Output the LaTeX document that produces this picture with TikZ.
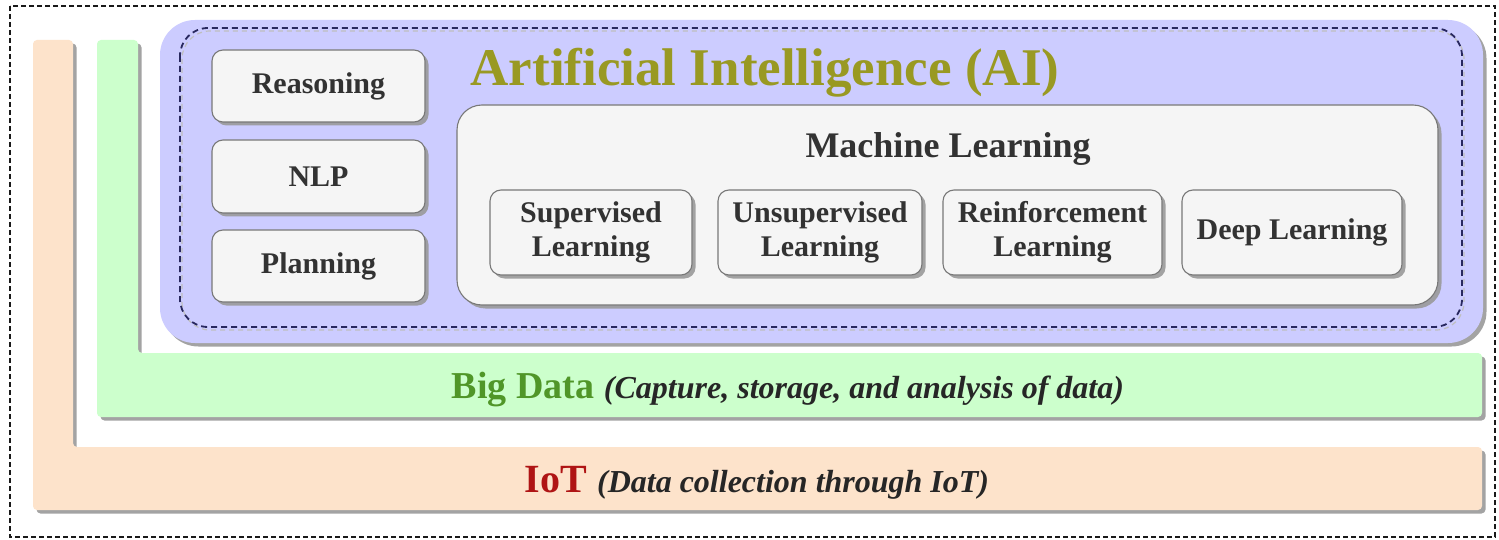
\documentclass[tikz,border=0pt]{standalone}
\usepackage{fontspec}
\setmainfont{Liberation Serif}
\usetikzlibrary{shadows}
\definecolor{iotfill}{RGB}{253,227,203}
\definecolor{bdfill}{RGB}{204,255,204}
\definecolor{aifill}{RGB}{204,204,255}
\definecolor{boxfill}{RGB}{245,245,245}
\definecolor{boxline}{RGB}{120,120,120}
\definecolor{navy}{RGB}{40,40,95}
\definecolor{olive}{RGB}{153,153,34}
\definecolor{bdgreen}{RGB}{80,150,40}
\definecolor{iotred}{RGB}{175,20,20}
\definecolor{txt}{RGB}{50,50,50}
\tikzset{
  shad/.style={drop shadow={shadow xshift=3.5pt, shadow yshift=-3.5pt, fill=gray!80, opacity=0.9}},
  layer/.style={shad, rounded corners=4pt},
  smallbox/.style={shad, draw=boxline, line width=1.1pt, fill=boxfill, rounded corners=11pt,
    inner sep=0pt, outer sep=0pt, align=center, text=txt,
    font=\fontsize{30}{34}\selectfont\bfseries},
  mlbox/.style={shad, draw=boxline, line width=1.1pt, fill=boxfill, rounded corners=25pt,
    inner sep=0pt, outer sep=0pt},
  lbl/.style={inner sep=0pt, outer sep=0pt, anchor=base},
}
\begin{document}
\begin{tikzpicture}[x=1pt, y=-1pt]
\useasboundingbox (0,0) rectangle (1499,540);
\fill[white] (0,0) rectangle (1499,540);
% outer frame
\draw[gray!20!black, line width=1.4pt, dash pattern=on 5pt off 3pt] (10,6) rectangle (1495,537);
% IoT layer
\fill[iotfill, layer] (33,40) -- (73,40) -- (73,447) -- (1482,447) -- (1482,510) -- (33,510) -- cycle;
% Big Data layer
\fill[bdfill, layer] (97,40) -- (138,40) -- (138,353) -- (1482,353) -- (1482,417) -- (97,417) -- cycle;
% AI layer
\fill[aifill, shad, rounded corners=35pt] (160,20) rectangle (1483,343);
\draw[gray!50, line width=1.2pt, dash pattern=on 5pt off 4pt, rounded corners=28pt] (182,31) rectangle (1464,330);
\draw[navy, line width=1.8pt, dash pattern=on 6pt off 4pt, rounded corners=28pt] (180,28) rectangle (1462,327);
% texts of layers
\node[lbl, text=olive, font=\fontsize{53}{58}\selectfont\bfseries] (ai) at (765,86) {Artificial Intelligence (AI)};
\node[lbl, font=\fontsize{38}{42}\selectfont\bfseries] (bd) at (788,398)
  {\textcolor{bdgreen}{Big Data} {\fontsize{32}{36}\selectfont\itshape\color{black!85}(Capture, storage, and analysis of data)}};
\node[lbl, font=\fontsize{40}{44}\selectfont\bfseries] (iot) at (757,492)
  {\textcolor{iotred}{IoT} {\fontsize{32}{36}\selectfont\itshape\color{black!85}(Data collection through IoT)}};
% left boxes
\node[smallbox, minimum width=213pt, minimum height=72pt] (reas) at (318.5,86) {Reasoning};
\node[smallbox, minimum width=213pt, minimum height=73pt] (nlp) at (318.5,176.5) {NLP};
\node[smallbox, minimum width=213pt, minimum height=72pt] (plan) at (318.5,266) {Planning};
% machine learning
\node[mlbox, minimum width=981pt, minimum height=200pt] (ml) at (947.5,205) {};
\node[lbl, text=txt, font=\fontsize{36}{40}\selectfont\bfseries] (mlt) at (948,158) {Machine Learning};
\node[smallbox, minimum width=202pt, minimum height=85pt] (sup) at (591,232.5) {Supervised\\Learning};
\node[smallbox, minimum width=204pt, minimum height=85pt] (unsup) at (820,232.5) {Unsupervised\\Learning};
\node[smallbox, minimum width=219pt, minimum height=85pt] (reinf) at (1052.5,232.5) {Reinforcement\\Learning};
\node[smallbox, minimum width=220pt, minimum height=85pt] (deep) at (1292,232.5) {Deep Learning};
\end{tikzpicture}
\end{document}
